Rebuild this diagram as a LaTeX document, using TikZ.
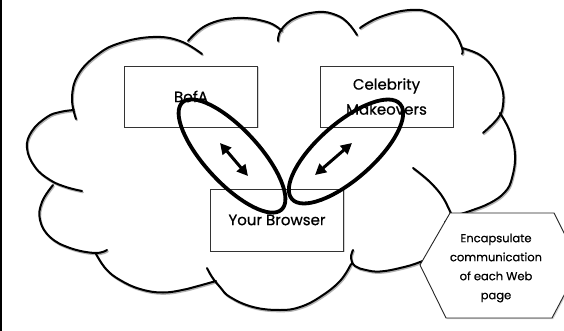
\documentclass[tikz,border=0pt]{standalone}
\usepackage{fontspec}
\setmainfont{Poppins}[FakeBold=0.6]
\usetikzlibrary{shapes.geometric,arrows.meta,shadows}
\begin{document}
\begin{tikzpicture}[x=1pt,y=1pt,
  cloudline/.style={line width=2pt, line cap=round, line join=round},
  pagebox/.style={draw=black!80, line width=0.8pt, fill=white, minimum width=133pt, minimum height=61pt, inner sep=0pt, align=center, font=\fontsize{15}{25}\selectfont, text=black, drop shadow={shadow xshift=1.2pt, shadow yshift=-1.2pt, opacity=0.35}},
  ring/.style={ellipse, draw, line width=3.8pt, minimum width=146pt, minimum height=54pt, inner sep=0pt},
  dblarrow/.style={{Triangle[length=11pt,width=11pt]}-{Triangle[length=11pt,width=11pt]}, line width=3pt},
  hexbox/.style={draw=black!85, line width=0.9pt, fill=white, drop shadow={shadow xshift=1.2pt, shadow yshift=-1.2pt, opacity=0.35}},
]
\useasboundingbox (0,0) rectangle (564,-331);
\fill[white] (0,0) rectangle (564,-331);
\fill[black] (0,0) rectangle (2,-331);

% cloud (shadow pass, then outline)
\foreach \dx/\dy/\col in {0.9/-1.3/black!30, 0/0/black}{
\draw[cloudline, draw=\col, shift={(\dx,\dy)}]
  plot[smooth, tension=0.7] coordinates {(76,-119) (72,-98) (78,-75) (97,-55) (120,-43) (153,-37) (180,-41) (202,-54)}
  plot[smooth, tension=0.7] coordinates {(188,-41) (207,-25) (237,-18) (267,-22) (282,-31)}
  plot[smooth, tension=0.7] coordinates {(278,-41) (281,-30) (295,-18) (318,-12) (336,-15) (348,-23) (357,-35)}
  plot[smooth, tension=0.7] coordinates {(360,-28) (380,-17) (410,-10) (433,-14) (453,-31) (462,-48) (462,-54)}
  plot[smooth, tension=0.7] coordinates {(462,-48) (480,-55) (493,-68) (502,-88) (503,-105) (498,-118) (483,-133)}
  plot[smooth, tension=0.7] coordinates {(500,-113) (510,-132) (515,-155) (512,-178) (505,-192) (490,-203) (470,-211) (455,-216) (445,-222)}
  plot[smooth, tension=0.7] coordinates {(413,-168) (433,-185) (447,-205) (453,-228) (440,-252) (420,-262) (400,-268) (380,-271.5) (366,-270) (355,-266) (351,-258) (353,-250)}
  plot[smooth, tension=0.7] coordinates {(351,-264) (340,-281) (320,-297) (300,-307) (280,-310) (253,-307) (230,-297) (220,-287) (212,-277) (207,-268)}
  plot[smooth, tension=0.7] coordinates {(216,-281) (200,-285.5) (187,-289) (163,-292.5) (140,-289) (120,-280) (106,-269) (96,-254)}
  plot[smooth, tension=0.7] coordinates {(107,-250) (95,-253) (70,-248) (50,-237) (40,-220) (42,-202) (53,-185)}
  plot[smooth, tension=0.7] coordinates {(82,-191) (66,-187) (50,-180) (35,-167) (27,-148) (32,-131) (47,-117) (60,-112) (74,-110)};
}

% page boxes
\node[pagebox] (bofa) at (191,-96.5) {BofA};
\node[pagebox] (celeb) at (386.5,-96.5) {Celebrity\\Makeovers};
\node[pagebox, minimum height=62pt] (browser) at (277,-220) {Your Browser};

% communication arrows
\coordinate (la1) at (220,-143);
\coordinate (la2) at (248,-176);
\coordinate (ra1) at (352,-143);
\coordinate (ra2) at (315,-175);
\draw[dblarrow] (la1) -- (la2);
\draw[dblarrow] (ra1) -- (ra2);

% encapsulating rings
\node[ring, rotate=-47.2] (ringL) at (232,-156) {};
\node[ring, rotate=41.3, minimum width=144pt, minimum height=56pt] (ringR) at (346,-151.5) {};

% hexagon note
\path[hexbox] (420,-265) -- (450,-213) -- (554,-213) -- (580,-265) -- (552,-318) -- (446,-318) -- cycle;
\node[font=\fontsize{11.5}{19}\selectfont, align=center, text=black] (hex) at (496,-268) {Encapsulate\\communication\\of each Web\\page};
\end{tikzpicture}
\end{document}
